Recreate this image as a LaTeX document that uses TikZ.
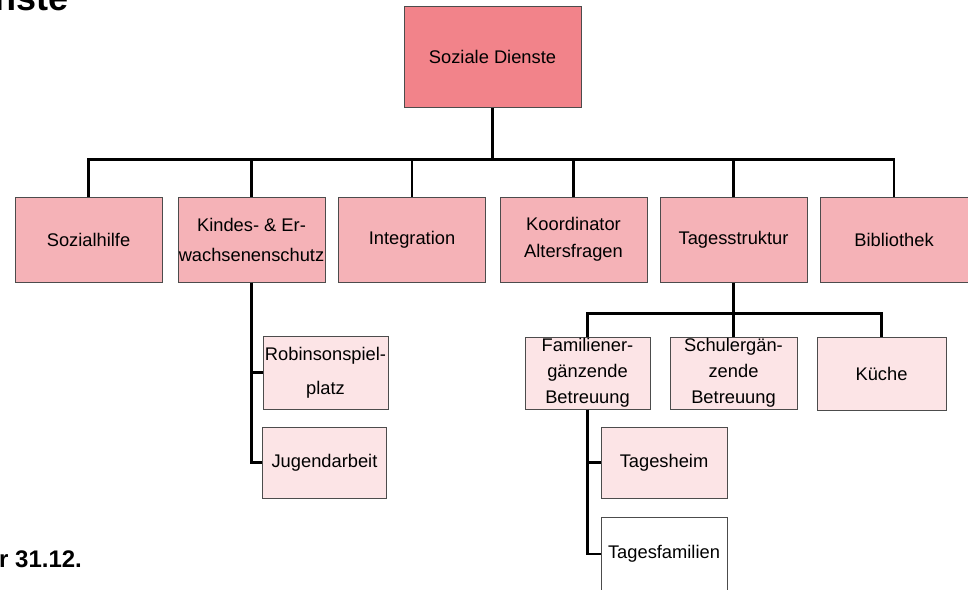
\documentclass[tikz,border=0pt]{standalone}
\usepackage{fontspec}
\setmainfont{Liberation Sans}
\begin{document}
\begin{tikzpicture}[x=1pt,y=-1pt,
  box/.style={draw=black!70, line width=1pt, inner sep=0pt, align=center,
    font=\fontsize{18.3}{27}\selectfont},
  lvlroot/.style={box, fill=rootc, minimum width=177pt, minimum height=101pt},
  lvltwo/.style={box, fill=twoc, minimum width=147pt, minimum height=85pt},
  lvlthree/.style={box, fill=threec},
  conn/.style={draw=black, line width=2.6pt}]
\definecolor{rootc}{RGB}{242,131,138}
\definecolor{twoc}{RGB}{245,178,183}
\definecolor{threec}{RGB}{252,228,230}
\useasboundingbox (0,0) rectangle (968,589);
\clip (0,0) rectangle (968,589);

\node[anchor=base east, font=\fontsize{36}{40}\selectfont\bfseries, inner sep=0pt] (title) at (69,10) {nste};
\node[anchor=base west, font=\fontsize{24}{28}\selectfont\bfseries, inner sep=0pt] (date) at (-1,567) {r 31.12.};

\node[lvlroot] (root) at (492.5,56.5) {Soziale Dienste};

\node[lvltwo] (soz) at (88.5,239.5) {Sozialhilfe};
\node[lvltwo, font=\fontsize{18.3}{30}\selectfont] (kes) at (251.5,239.5) {Kindes- \& Er-\\wachsenenschutz};
\node[lvltwo] (int) at (412,239.5) {\strut Integration};
\node[lvltwo] (koo) at (573.5,239.5) {Koordinator\\Altersfragen};
\node[lvltwo] (tag) at (733.5,239.5) {\strut Tagesstruktur};
\node[lvltwo, minimum width=148pt] (bib) at (894,239.5) {Bibliothek};

\node[lvlthree, minimum width=125pt, minimum height=73pt, font=\fontsize{18.3}{34}\selectfont] (rob) at (325.5,372.5) {Robinsonspiel-\\platz};
\node[lvlthree, minimum width=124pt, minimum height=71pt] (jug) at (324.5,462.5) {Jugendarbeit};

\node[lvlthree, minimum width=125pt, minimum height=72pt, font=\fontsize{18.3}{26}\selectfont] (fam) at (587.5,373) {Familiener-\\gänzende\\Betreuung};
\node[lvlthree, minimum width=127pt, minimum height=72pt, font=\fontsize{18.3}{26}\selectfont] (sch) at (733.5,373) {Schulergän-\\zende\\Betreuung};
\node[lvlthree, minimum width=129pt, minimum height=73pt] (kue) at (881.5,373.5) {Küche};

\node[lvlthree, minimum width=126pt, minimum height=71pt] (hei) at (664,462.5) {Tagesheim};
\node[box, fill=white, minimum width=126pt, minimum height=74pt] (tfa) at (664,554) {Tagesfamilien};

\draw[conn] (root.south) -- ++(0,52) coordinate (bus) -| (soz.north);
\draw[conn] (bus) -| (kes.north);
\draw[conn] (bus) -| (int.north);
\draw[conn] (bus) -| (koo.north);
\draw[conn] (bus) -| (tag.north);
\draw[conn] (bus) -| (bib.north);

\draw[conn] (kes.south) |- (rob.west);
\draw[conn] (kes.south) |- (jug.west);

\draw[conn] (tag.south) -- ++(0,31) coordinate (tbus) -| (fam.north);
\draw[conn] (tbus) -- (sch.north);
\draw[conn] (tbus) -| (kue.north);

\draw[conn] (fam.south) |- (hei.west);
\draw[conn] (fam.south) |- (tfa.west);
\end{tikzpicture}
\end{document}
